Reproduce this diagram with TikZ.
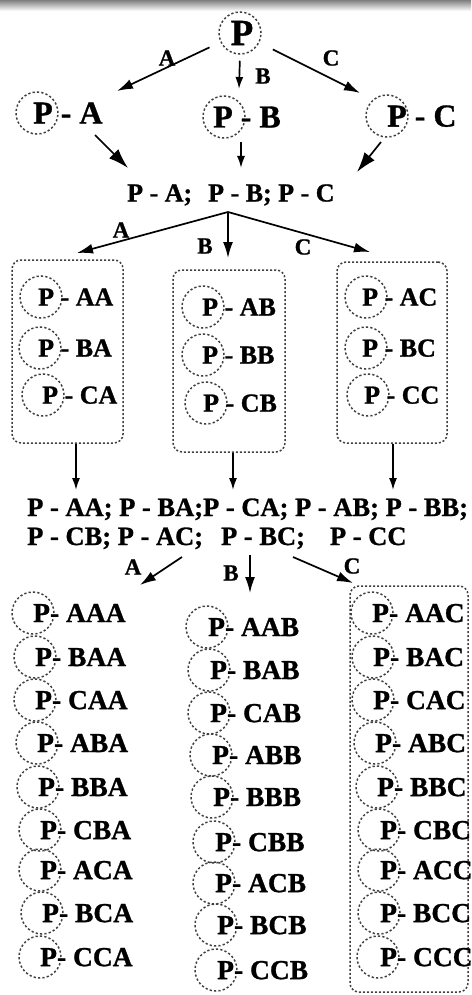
\documentclass[tikz,border=0pt]{standalone}
\usepackage{fontspec}
\setmainfont{Liberation Serif}[BoldFeatures={FakeBold=1}]
\usetikzlibrary{arrows.meta}
\tikzset{
  pc/.style={circle, draw=black!75, line width=1.5pt, dash pattern=on 2.2pt off 2.2pt,
             minimum size=42pt, inner sep=0pt},
  dbox/.style={rectangle, draw=black!75, line width=1.5pt, dash pattern=on 2pt off 2pt,
               rounded corners=9pt, inner sep=0pt},
  lbl/.style={inner sep=0pt, text depth=0pt, font=\fontsize{26}{30}\selectfont\bfseries},
  lbls/.style={inner sep=0pt, text depth=0pt, font=\fontsize{27.5}{30}\selectfont\bfseries},
  lline/.style={inner sep=0pt, font=\fontsize{26.5}{30}\selectfont\bfseries},
  lblbig/.style={inner sep=0pt, text depth=0pt, font=\fontsize{32}{36}\selectfont\bfseries},
  alab/.style={inner sep=0pt, font=\fontsize{23}{26}\selectfont\bfseries},
  arr/.style={line width=1.7pt, -{Latex[length=16pt,width=10pt]}},
  arrs/.style={line width=1.7pt, -{Latex[length=12pt,width=8pt]}},
  arrb/.style={line width=1.7pt, -{Latex[length=20pt,width=13pt]}},
}
% circled P followed by its suffix: name, circle x, y, text x, text
\newcommand\pitem[5]{%
  \node[pc] (c#1) at (#2,#3) {};
  \node[lbl, anchor=west] (t#1) at (#4,#3) {#5};}
% same for the last level, set slightly larger
\newcommand\qitem[5]{%
  \node[pc] (c#1) at (#2,#3) {};
  \node[lbls, anchor=west] (t#1) at (#4,#3) {#5};}
\begin{document}
\begin{tikzpicture}[x=1pt,y=-1pt]
\useasboundingbox (0,0) rectangle (471,995);
\shade[top color=black!50, bottom color=white] (0,0) rectangle (471,11);

% root
\node[pc] (c0) at (240,33) {};
\node[inner sep=0pt, text depth=0pt, font=\fontsize{37}{40}\selectfont\bfseries] (t0) at (242,33) {P};

% first level
\node[pc] (cA) at (37,113) {};
\node[lblbig, anchor=west] (tA) at (33,113) {P - A};
\node[pc] (cB) at (224,117) {};
\node[lblbig, anchor=west] (tB) at (213,117) {P - B};
\node[pc] (cC) at (387,116) {};
\node[lblbig, anchor=west] (tC) at (387,116) {P - C};

\coordinate (eA) at (117,91);
\coordinate (eB) at (239,89);
\coordinate (eC) at (360,93);
\draw[arr, shorten <=12pt] (c0) -- (eA);
\draw[arrs, shorten <=6pt] (c0.south) -- (eB);
\draw[arr, shorten <=15pt] (c0) -- (eC);
\node[alab] (lA) at (167,58) {A};
\node[alab] (lB) at (263,76) {B};
\node[alab] (lC) at (331,58) {C};

% merged first level
\node[lbl, anchor=base west] (r3) at (127,201.5) {P - A;\hspace{16pt}P - B; P - C};
\coordinate (sA2) at (95,135);  \coordinate (eA2) at (128,168);
\coordinate (sB2) at (241,142); \coordinate (eB2) at (241,168);
\coordinate (sC2) at (381,142); \coordinate (eC2) at (357,172);
\draw[arrb] (sA2) -- (eA2);
\draw[arrs] (sB2) -- (eB2);
\draw[arrb] (sC2) -- (eC2);

% second level
\coordinate (j) at (228,212);
\coordinate (eA3) at (77,253);
\coordinate (eB3) at (228,258);
\coordinate (eC3) at (370,252);
\draw[arr] (j) -- (eA3);
\draw[arr] (j) -- (eB3);
\draw[arr] (j) -- (eC3);
\node[alab] (lA3) at (121,230) {A};
\node[alab] (lB3) at (205,246) {B};
\node[alab] (lC3) at (303,247) {C};

\node[dbox, minimum width=111pt, minimum height=183pt] (box1) at (67.5,351.5) {};
\node[dbox, minimum width=112pt, minimum height=182pt] (box2) at (229,361) {};
\node[dbox, minimum width=110pt, minimum height=181pt] (box3) at (392,352.5) {};

\pitem{AA}{41}{297}{38}{P - AA}
\pitem{BA}{40}{348}{38}{P - BA}
\pitem{CA}{43}{395}{42}{P - CA}
\pitem{AB}{203}{307}{202}{P - AB}
\pitem{BB}{203}{355}{202}{P - BB}
\pitem{CB}{206}{403}{203}{P - CB}
\pitem{AC}{366}{297}{362}{P - AC}
\pitem{BC}{366}{348}{362}{P - BC}
\pitem{CC}{368}{395}{364}{P - CC}

\coordinate (e1) at (76,490);
\coordinate (e2) at (233,490);
\coordinate (e3) at (393,490);
\draw[arrs] (box1.south -| e1) -- (e1);
\draw[arrs] (box2.south -| e2) -- (e2);
\draw[arrs] (box3.south -| e3) -- (e3);

% merged second level
\node[lline, anchor=base west] (L1) at (27,516) {P - AA; P - BA;P - CA; P - AB; P - BB;};
\node[lline, anchor=base west] (L2) at (27,545) {P - CB; P - AC;\hspace{18pt}P - BC;\hspace{25pt}P - CC};

% third level
\coordinate (sA4) at (182,557); \coordinate (eA4) at (140,585);
\coordinate (sB4) at (250,555); \coordinate (eB4) at (250,593);
\coordinate (sC4) at (293,557); \coordinate (eC4) at (353,583);
\draw[arr] (sA4) -- (eA4);
\draw[arr] (sB4) -- (eB4);
\draw[arr] (sC4) -- (eC4);
\node[alab] (lA4) at (133,567) {A};
\node[alab] (lB4) at (231,573) {B};
\node[alab] (lC4) at (352,566) {C};

\node[dbox, minimum width=118pt, minimum height=406pt] (box4) at (409,789) {};

\qitem{AAA}{33}{613}{33}{P- AAA}
\qitem{BAA}{35}{657}{35}{P- BAA}
\qitem{CAA}{35}{700}{35}{P- CAA}
\qitem{ABA}{37}{743}{37}{P- ABA}
\qitem{BBA}{38}{787}{38}{P- BBA}
\qitem{CBA}{40}{830}{40}{P- CBA}
\qitem{ACA}{40}{870}{40}{P- ACA}
\qitem{BCA}{42}{913}{42}{P- BCA}
\qitem{CCA}{40}{957}{40}{P- CCA}

\qitem{AAB}{207}{627}{208}{P- AAB}
\qitem{BAB}{209}{670}{210}{P- BAB}
\qitem{CAB}{209}{713}{210}{P- CAB}
\qitem{ABB}{211}{755}{212}{P- ABB}
\qitem{BBB}{212}{797}{213}{P- BBB}
\qitem{CBB}{214}{842}{215}{P- CBB}
\qitem{ACB}{214}{883}{215}{P- ACB}
\qitem{BCB}{216}{925}{217}{P- BCB}
\qitem{CCB}{216}{970}{217}{P- CCB}

\qitem{AAC}{372}{613}{372}{P- AAC}
\qitem{BAC}{373}{657}{373}{P- BAC}
\qitem{CAC}{373}{700}{373}{P- CAC}
\qitem{ABC}{375}{743}{375}{P- ABC}
\qitem{BBC}{377}{787}{377}{P- BBC}
\qitem{CBC}{379}{830}{380}{P- CBC}
\qitem{ACC}{379}{870}{380}{P- ACC}
\qitem{BCC}{379}{913}{380}{P- BCC}
\qitem{CCC}{378}{957}{380}{P- CCC}
\end{tikzpicture}
\end{document}
